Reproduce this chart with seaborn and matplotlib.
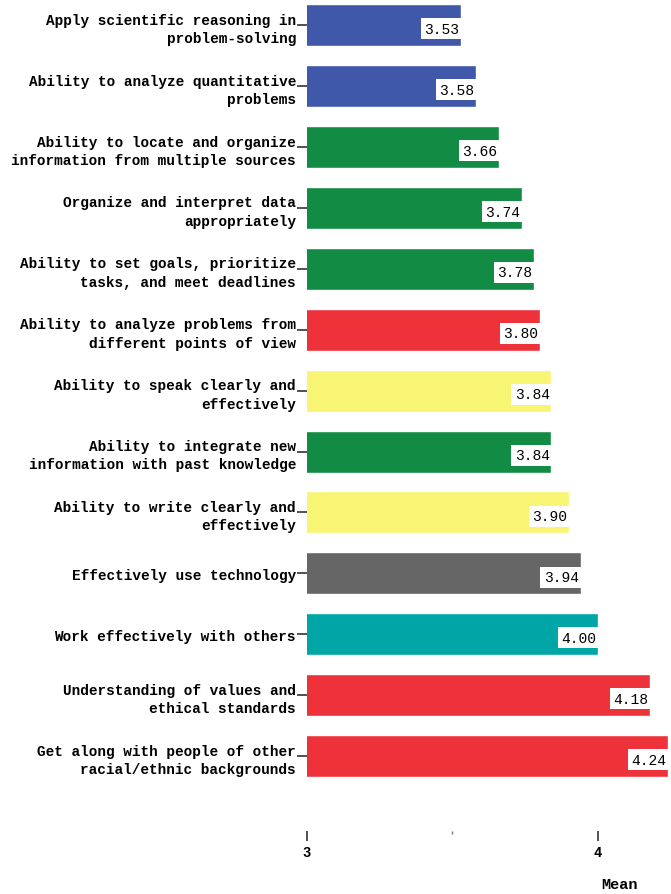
import numpy as np
import pandas as pd
from matplotlib import pyplot as plt
import seaborn as sns

labels = [
    "Apply scientific reasoning in\nproblem-solving",
    "Ability to analyze quantitative\nproblems",
    "Ability to locate and organize\ninformation from multiple sources",
    "Organize and interpret data\nappropriately",
    "Ability to set goals, prioritize\ntasks, and meet deadlines",
    "Ability to analyze problems from\ndifferent points of view",
    "Ability to speak clearly and\neffectively",
    "Ability to integrate new\ninformation with past knowledge",
    "Ability to write clearly and\neffectively",
    "Effectively use technology",
    "Work effectively with others",
    "Understanding of values and\nethical standards",
    "Get along with people of other\nracial/ethnic backgrounds",
]
means = [3.53, 3.58, 3.66, 3.74, 3.78, 3.80, 3.84, 3.84, 3.90, 3.94, 4.00, 4.18, 4.24]
groups = ["blue", "blue", "green", "green", "green", "red", "yellow", "green",
          "yellow", "gray", "teal", "red", "red"]
group_colors = {"blue": "#3F58AA", "green": "#128C44", "red": "#EE3239",
                "yellow": "#F8F574", "gray": "#666666", "teal": "#00A6A6"}

df = pd.DataFrame({"label": labels, "mean": means, "group": groups})

sns.set_style("white")
plt.rcParams['font.family'] = ['Liberation Mono', 'DejaVu Sans Mono']
plt.rcParams['text.color'] = 'black'
plt.rcParams['xtick.color'] = 'black'
plt.rcParams['ytick.color'] = 'black'

fig = plt.figure(figsize=(6.71, 8.95), dpi=100)
ax = fig.add_axes([307 / 671, 1 - 832 / 895, 362 / 671, 832 / 895])

sns.barplot(data=df, x="mean", y="label", hue="group", palette=group_colors,
            orient="h", width=0.69, dodge=False, legend=False, saturation=1,
            ax=ax)

ax.set_xlim(3, 4.244)
ax.set_ylim(13.23, -0.43)
sns.despine(ax=ax, left=True, bottom=True, top=True, right=True)

# value boxes at bar ends
for i, v in enumerate(df["mean"]):
    ax.text(v - 0.006, i + 0.06, f"{v:.2f}", ha="right", va="center",
            fontsize=10.5, color="black",
            bbox=dict(facecolor="white", edgecolor="none", pad=2.5))

ax.set_ylabel("")
ax.set_xlabel("")
ax.tick_params(axis="y", length=7, width=1.2, color="#333333", pad=1,
               left=True, labelsize=10.4)
for t in ax.get_yticklabels():
    t.set_fontweight("bold")
    t.set_linespacing(1.4)

ax.set_xticks([3, 4])
ax.set_xticks([3.5], minor=True)
ax.set_xticklabels(["3", "4"], fontweight="bold", fontsize=10)
ax.tick_params(axis="x", which="major", length=7, width=1.2, color="#333333",
               bottom=True, pad=3)
ax.tick_params(axis="x", which="minor", length=2.5, width=1, color="#777777",
               bottom=True)

fig.text(620 / 671, 1 - 885 / 895, "Mean", ha="center", va="center",
         fontsize=11, fontweight="bold")

fig.savefig("out.png", dpi=100)
